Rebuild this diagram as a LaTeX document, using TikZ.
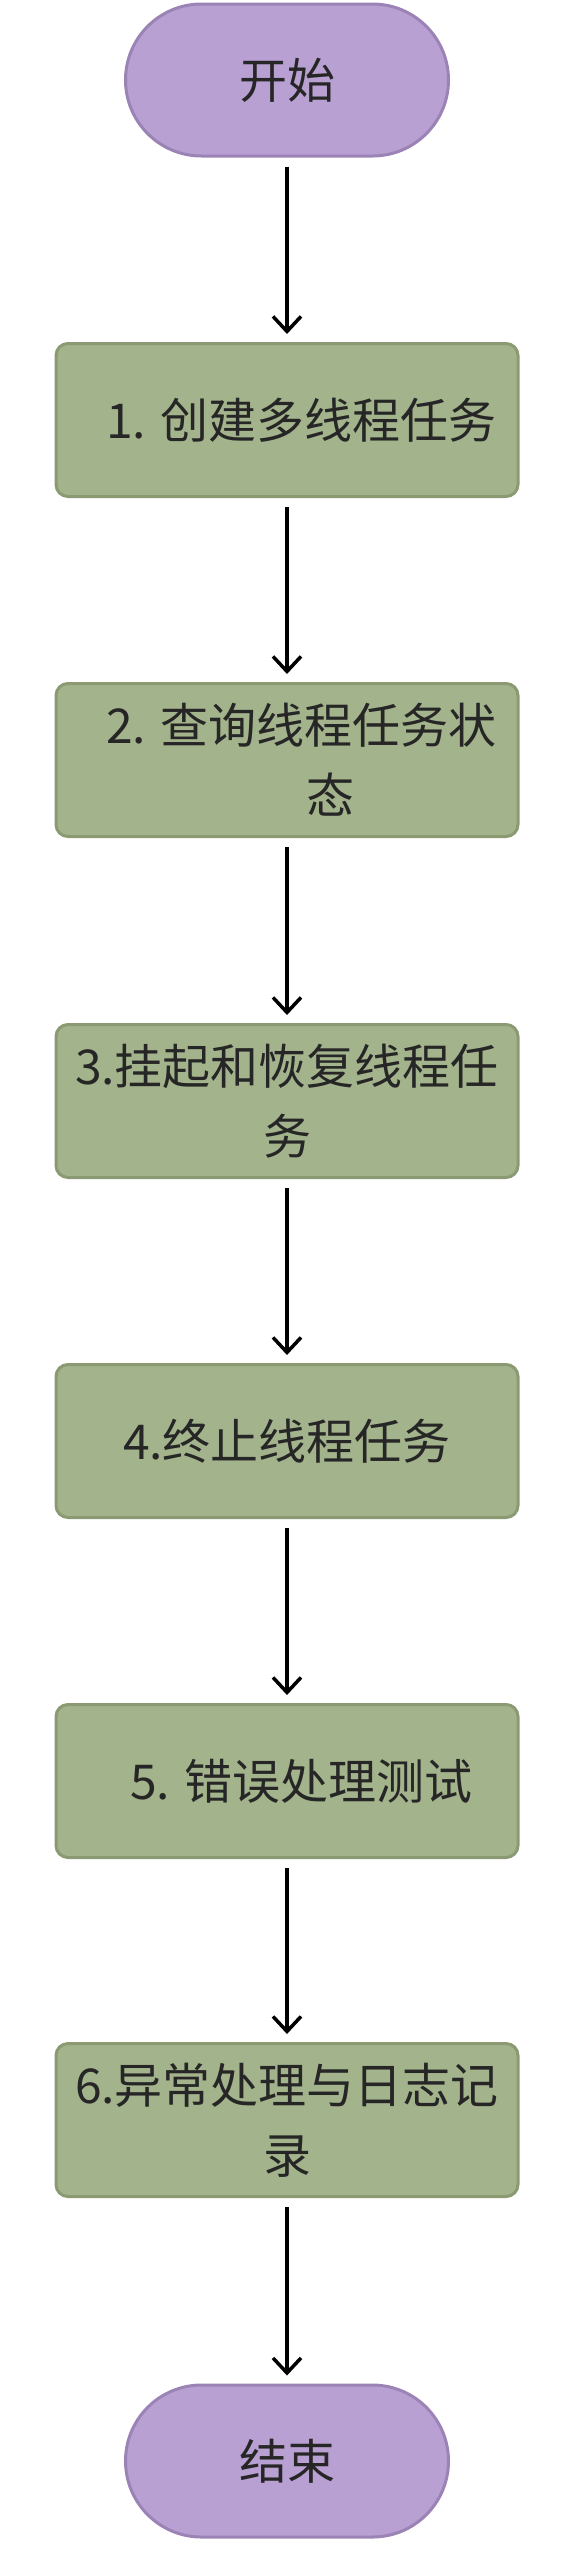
\documentclass[tikz,border=0pt]{standalone}
\usepackage{fontspec}
\setmainfont{Noto Sans CJK SC}
\usepackage{tikz}
\usetikzlibrary{arrows.meta}
\definecolor{termfill}{HTML}{B8A0D2}
\definecolor{termdraw}{HTML}{9B84B5}
\definecolor{stepfill}{HTML}{A3B38B}
\definecolor{stepdraw}{HTML}{8C9A74}
\tikzset{
  arrow_style/.style = {
    -{Straight Barb[length=15pt,width=28pt]}, line width=3.5pt,
    shorten <=9pt, shorten >=8pt  }
}

\begin{document}
\begin{tikzpicture}[x=1pt,y=1pt,
term_style/.style={draw=termdraw,fill=termfill,line width=3pt,
  rounded corners=76pt,minimum width=323pt,minimum height=152pt,
  text=black!85,font=\fontsize{48}{70}\selectfont},
step_style/.style={draw=stepdraw,fill=stepfill,line width=3pt,
  rounded corners=12pt,minimum width=462pt,minimum height=153pt,
  align=center,text=black!85,font=\fontsize{48}{70}\selectfont}]

\useasboundingbox (0,0) rectangle (571,-2560);

\node[term_style] (start) at (287,-80) {开始};
\node[term_style] (stop) at (287,-2461) {结束};

\foreach \y/\n/\t in {
  420/b1/{\hspace*{0.6em}1. 创建多线程任务},
  760/b2/{\hspace*{0.6em}2. 查询线程任务状\\\hspace*{1.8em}态},
  1101/b3/{3.挂起和恢复线程任\\务},
  1441/b4/{4.终止线程任务},
  1781/b5/{\hspace*{0.6em}5. 错误处理测试},
  2120/b6/{6.异常处理与日志记\\录}}{
 \node[step_style] (\n) at (287,-\y) {\t};
}

\foreach \a/\b in {start/b1,b1/b2,b2/b3,b3/b4,b4/b5,b5/b6,b6/stop}{
 \draw[arrow_style] (\a) -- (\b);
}
\end{tikzpicture}
\end{document}
